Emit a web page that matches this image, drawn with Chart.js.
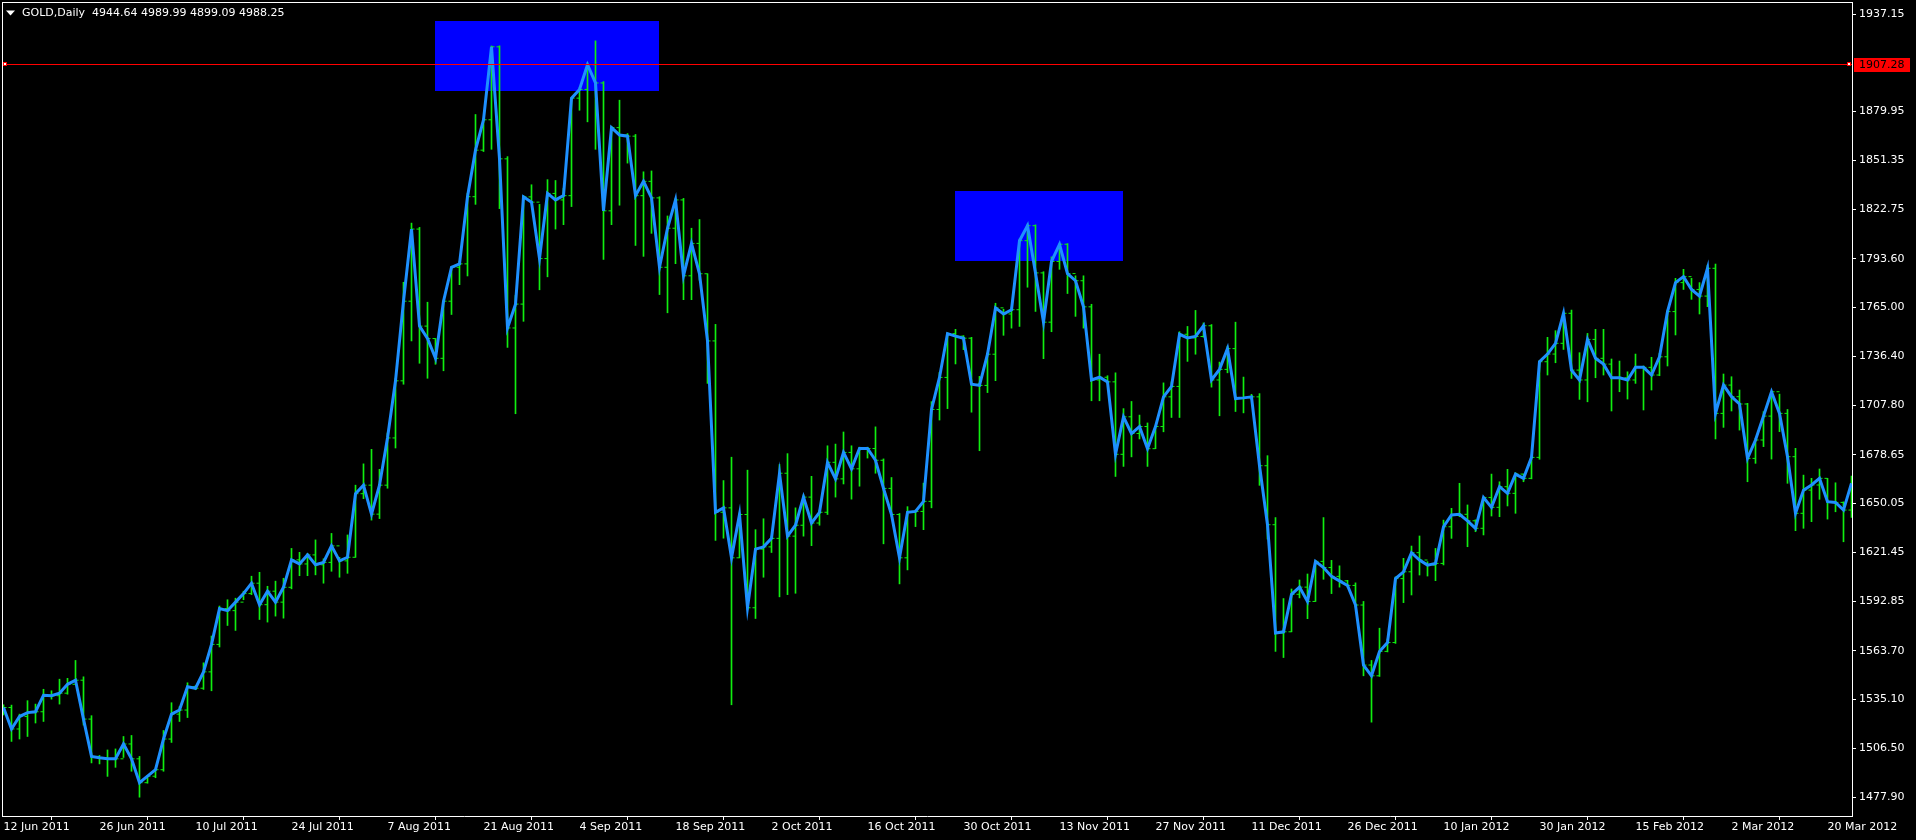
<!DOCTYPE html>
<html>
<head>
<meta charset="utf-8">
<title>GOLD,Daily</title>
<script src="https://cdn.jsdelivr.net/npm/chart.js@4.4.1/dist/chart.umd.min.js"></script>
<style>
  html, body { margin: 0; padding: 0; background: #000; overflow: hidden; }
  #chartBox { width: 1916px; height: 840px; }
</style>
</head>
<body>
<div id="chartBox"><canvas id="goldChart" width="1916" height="840"></canvas></div>
<script>
// GOLD daily bars, 12 Jun 2011 .. Mar 2012
const chartTitle = 'GOLD,Daily  4944.64 4989.99 4899.09 4988.25';

// one label every 12 bars, starting with bar 0
const dateLabels = ['12 Jun 2011', '26 Jun 2011', '10 Jul 2011', '24 Jul 2011', '7 Aug 2011',
  '21 Aug 2011', '4 Sep 2011', '18 Sep 2011', '2 Oct 2011', '16 Oct 2011', '30 Oct 2011',
  '13 Nov 2011', '27 Nov 2011', '11 Dec 2011', '26 Dec 2011', '10 Jan 2012', '30 Jan 2012',
  '15 Feb 2012', '2 Mar 2012', '20 Mar 2012'];
const barsPerLabel = 12;

const priceTicks = [1937.15, 1879.95, 1851.35, 1822.75, 1793.60, 1765.00, 1736.40, 1707.80,
  1678.65, 1650.05, 1621.45, 1592.85, 1563.70, 1535.10, 1506.50, 1477.90];

const opens = [
  1531.0, 1530.4, 1517.8, 1525.1, 1527.4, 1527.9, 1537.6, 1537.3, 1538.8, 1544.0, 1546.4, 1523.6,
  1501.7, 1500.9, 1500.3, 1500.3, 1509.0, 1500.3, 1486.3, 1490.1, 1493.9, 1511.9, 1526.5, 1528.9,
  1542.6, 1541.7, 1551.3, 1567.4, 1588.4, 1587.2, 1592.2, 1597.2, 1603.3, 1590.7, 1598.6, 1592.2,
  1600.9, 1617.0, 1614.6, 1619.9, 1614.1, 1615.5, 1625.2, 1616.4, 1618.5, 1655.8, 1660.8, 1643.8,
  1660.8, 1688.5, 1722.0, 1768.7, 1811.0, 1754.1, 1746.8, 1735.2, 1768.7, 1788.6, 1790.6, 1830.0,
  1857.3, 1875.1, 1917.9, 1852.2, 1753.0, 1767.0, 1829.9, 1826.8, 1793.7, 1831.9, 1828.1, 1830.6,
  1887.8, 1892.9, 1907.4, 1896.7, 1821.7, 1870.5, 1866.2, 1865.5, 1830.6, 1839.0, 1829.3, 1788.6,
  1811.5, 1828.1, 1783.6, 1802.6, 1784.8, 1745.4, 1644.9, 1647.5, 1618.2, 1643.6, 1588.9, 1623.3,
  1624.6, 1629.6, 1667.8, 1630.9, 1637.3, 1653.8, 1638.6, 1644.9, 1674.2, 1664.5, 1680.0, 1670.4,
  1682.3, 1682.3, 1675.4, 1658.9, 1643.6, 1618.2, 1644.9, 1645.4, 1651.3, 1705.2, 1724.0, 1749.7,
  1748.2, 1747.0, 1720.0, 1719.3, 1737.6, 1764.8, 1761.2, 1763.7, 1804.2, 1813.0, 1785.3, 1756.4,
  1792.0, 1802.1, 1784.9, 1780.7, 1765.4, 1722.5, 1724.1, 1721.4, 1678.9, 1700.9, 1691.1, 1695.2,
  1682.2, 1695.2, 1712.6, 1718.7, 1749.3, 1747.2, 1748.0, 1754.3, 1722.5, 1728.7, 1740.9, 1711.6,
  1712.0, 1712.6, 1672.2, 1637.6, 1574.1, 1574.8, 1596.8, 1601.0, 1592.6, 1616.1, 1612.5, 1607.3,
  1604.7, 1602.0, 1590.5, 1555.3, 1549.0, 1563.3, 1568.5, 1606.0, 1610.0, 1621.2, 1616.9, 1613.9,
  1614.9, 1636.4, 1643.3, 1643.7, 1639.9, 1635.5, 1653.6, 1647.8, 1659.9, 1656.0, 1667.3, 1664.8,
  1677.1, 1733.2, 1737.7, 1744.0, 1761.6, 1728.3, 1722.5, 1746.3, 1735.2, 1731.8, 1723.8, 1723.8,
  1722.5, 1729.9, 1729.9, 1725.4, 1736.1, 1762.6, 1779.6, 1783.1, 1775.6, 1771.7, 1788.0, 1702.9,
  1719.5, 1712.7, 1708.4, 1676.5, 1687.3, 1701.3, 1715.6, 1702.9, 1677.5, 1644.3, 1657.9, 1660.9,
  1664.8, 1651.1, 1650.7, 1646.2
];

const highs = [
  1532.0, 1531.8, 1526.5, 1534.4, 1532.4, 1541.1, 1540.2, 1547.0, 1547.5, 1558.0, 1548.4, 1525.6,
  1502.3, 1505.5, 1506.1, 1513.4, 1514.0, 1501.7, 1490.6, 1494.5, 1516.9, 1533.2, 1530.9, 1544.9,
  1543.2, 1556.6, 1572.3, 1589.9, 1593.6, 1594.5, 1598.6, 1607.4, 1609.7, 1601.5, 1604.5, 1606.2,
  1623.7, 1621.4, 1620.8, 1628.7, 1617.6, 1632.5, 1618.5, 1631.6, 1660.8, 1673.3, 1681.8, 1670.1,
  1691.4, 1723.5, 1779.8, 1814.5, 1812.0, 1768.1, 1746.8, 1769.3, 1789.2, 1792.1, 1832.0, 1878.2,
  1876.0, 1918.4, 1918.5, 1853.5, 1772.1, 1830.6, 1837.0, 1825.5, 1840.0, 1839.5, 1834.9, 1887.8,
  1894.0, 1908.5, 1921.4, 1897.5, 1871.3, 1886.6, 1867.0, 1866.5, 1844.6, 1845.1, 1830.0, 1818.7,
  1829.0, 1829.0, 1811.5, 1816.6, 1784.8, 1755.1, 1663.5, 1677.2, 1644.5, 1669.6, 1634.7, 1641.1,
  1630.9, 1672.9, 1679.3, 1647.5, 1655.1, 1666.0, 1646.2, 1683.9, 1684.9, 1692.0, 1683.9, 1683.1,
  1683.1, 1695.0, 1676.2, 1665.3, 1644.2, 1648.2, 1646.2, 1662.0, 1709.8, 1727.0, 1750.1, 1752.2,
  1748.5, 1747.5, 1724.6, 1738.5, 1767.5, 1764.0, 1765.0, 1805.2, 1814.0, 1813.5, 1786.0, 1794.7,
  1802.5, 1802.5, 1783.6, 1783.6, 1766.9, 1737.6, 1725.0, 1726.7, 1705.7, 1709.9, 1701.9, 1697.3,
  1695.7, 1720.8, 1721.4, 1750.8, 1753.9, 1763.3, 1756.0, 1755.0, 1733.0, 1742.4, 1756.4, 1724.2,
  1714.1, 1714.5, 1678.1, 1641.8, 1594.3, 1599.9, 1605.2, 1608.7, 1616.7, 1641.8, 1616.7, 1613.5,
  1605.0, 1603.5, 1592.6, 1558.0, 1576.9, 1570.6, 1607.0, 1617.9, 1625.1, 1631.0, 1615.9, 1623.7,
  1640.3, 1647.2, 1661.9, 1649.2, 1640.5, 1653.6, 1667.3, 1662.8, 1670.1, 1668.1, 1667.3, 1677.5,
  1734.0, 1747.5, 1751.4, 1761.9, 1763.5, 1738.5, 1749.8, 1752.2, 1752.2, 1734.8, 1733.6, 1727.3,
  1737.7, 1730.7, 1735.8, 1738.1, 1763.5, 1782.1, 1787.4, 1782.1, 1779.6, 1789.9, 1790.5, 1726.0,
  1724.4, 1716.6, 1708.8, 1688.2, 1703.9, 1715.6, 1714.2, 1705.2, 1682.4, 1666.7, 1664.8, 1670.3,
  1664.8, 1662.2, 1651.0, 1666.1
];

const lows = [
  1526.0, 1510.5, 1511.9, 1513.4, 1521.3, 1522.2, 1535.3, 1532.4, 1538.2, 1545.5, 1520.1, 1497.9,
  1497.3, 1490.0, 1495.3, 1501.1, 1493.0, 1477.8, 1486.0, 1489.2, 1493.0, 1509.9, 1522.2, 1524.5,
  1540.8, 1541.0, 1540.2, 1565.9, 1578.5, 1575.6, 1593.6, 1596.6, 1582.0, 1580.5, 1584.0, 1582.8,
  1600.0, 1607.7, 1607.7, 1608.2, 1603.3, 1610.3, 1606.8, 1609.1, 1618.5, 1652.9, 1640.3, 1641.2,
  1659.0, 1682.6, 1720.0, 1745.4, 1732.3, 1723.5, 1731.7, 1727.9, 1760.9, 1778.4, 1783.5, 1825.5,
  1856.5, 1857.8, 1823.0, 1741.6, 1702.7, 1756.9, 1826.0, 1775.4, 1783.0, 1811.0, 1813.6, 1824.2,
  1880.7, 1873.9, 1857.8, 1793.2, 1813.6, 1825.0, 1849.7, 1801.4, 1795.0, 1808.5, 1772.6, 1761.9,
  1790.7, 1769.6, 1769.6, 1781.0, 1720.5, 1628.4, 1629.7, 1532.0, 1618.2, 1587.7, 1582.6, 1606.8,
  1621.3, 1595.3, 1596.6, 1597.4, 1630.9, 1625.3, 1637.3, 1643.6, 1653.8, 1661.5, 1652.6, 1660.2,
  1676.7, 1667.8, 1626.4, 1642.4, 1602.9, 1611.1, 1636.5, 1634.7, 1647.5, 1699.0, 1705.7, 1731.9,
  1740.3, 1703.6, 1681.0, 1715.1, 1722.1, 1748.7, 1752.9, 1753.9, 1776.9, 1762.7, 1735.0, 1750.8,
  1787.4, 1773.2, 1759.8, 1752.9, 1710.3, 1710.3, 1720.4, 1665.9, 1671.8, 1677.4, 1687.9, 1671.8,
  1682.2, 1692.1, 1700.5, 1700.5, 1733.4, 1737.6, 1747.6, 1718.3, 1701.5, 1726.7, 1704.0, 1703.2,
  1711.0, 1660.7, 1629.2, 1563.3, 1559.7, 1574.8, 1594.7, 1582.5, 1592.6, 1605.6, 1597.2, 1601.0,
  1601.0, 1589.4, 1549.0, 1521.8, 1548.6, 1563.0, 1568.0, 1591.9, 1596.4, 1608.1, 1607.5, 1604.8,
  1614.0, 1629.6, 1642.3, 1624.7, 1633.5, 1631.6, 1642.7, 1642.3, 1648.6, 1644.3, 1662.8, 1664.5,
  1676.0, 1725.4, 1732.6, 1740.4, 1723.4, 1711.1, 1709.7, 1723.8, 1725.4, 1704.3, 1715.6, 1711.3,
  1720.5, 1704.9, 1716.6, 1725.0, 1730.7, 1748.9, 1775.6, 1769.8, 1761.2, 1765.5, 1687.9, 1694.7,
  1704.3, 1693.1, 1662.8, 1673.6, 1683.4, 1676.1, 1692.2, 1661.9, 1634.1, 1635.5, 1639.4, 1652.5,
  1640.9, 1645.2, 1627.6, 1641.9
];

const closes = [
  1530.4, 1517.8, 1525.1, 1527.4, 1527.9, 1537.6, 1537.3, 1538.8, 1544.0, 1546.4, 1523.6, 1501.7,
  1500.9, 1500.3, 1500.3, 1509.0, 1500.3, 1486.3, 1490.1, 1493.9, 1511.9, 1526.5, 1528.9, 1542.6,
  1541.7, 1551.3, 1567.4, 1588.4, 1587.2, 1592.2, 1597.2, 1603.3, 1590.7, 1598.6, 1592.2, 1600.9,
  1617.0, 1614.6, 1619.9, 1614.1, 1615.5, 1625.2, 1616.4, 1618.5, 1655.8, 1660.8, 1643.8, 1660.8,
  1688.5, 1722.0, 1768.7, 1811.0, 1754.1, 1746.8, 1735.2, 1768.7, 1788.6, 1790.6, 1830.0, 1857.3,
  1875.1, 1917.9, 1852.2, 1753.0, 1767.0, 1829.9, 1826.8, 1793.7, 1831.9, 1828.1, 1830.6, 1887.8,
  1892.9, 1907.4, 1896.7, 1821.7, 1870.5, 1866.2, 1865.5, 1830.6, 1839.0, 1829.3, 1788.6, 1811.5,
  1828.1, 1783.6, 1802.6, 1784.8, 1745.4, 1644.9, 1647.5, 1618.2, 1643.6, 1588.9, 1623.3, 1624.6,
  1629.6, 1667.8, 1630.9, 1637.3, 1653.8, 1638.6, 1644.9, 1674.2, 1664.5, 1680.0, 1670.4, 1682.3,
  1682.3, 1675.4, 1658.9, 1643.6, 1618.2, 1644.9, 1645.4, 1651.3, 1705.2, 1724.0, 1749.7, 1748.2,
  1747.0, 1720.0, 1719.3, 1737.6, 1764.8, 1761.2, 1763.7, 1804.2, 1813.0, 1785.3, 1756.4, 1792.0,
  1802.1, 1784.9, 1780.7, 1765.4, 1722.5, 1724.1, 1721.4, 1678.9, 1700.9, 1691.1, 1695.2, 1682.2,
  1695.2, 1712.6, 1718.7, 1749.3, 1747.2, 1748.0, 1754.3, 1722.5, 1728.7, 1740.9, 1711.6, 1712.0,
  1712.6, 1672.2, 1637.6, 1574.1, 1574.8, 1596.8, 1601.0, 1592.6, 1616.1, 1612.5, 1607.3, 1604.7,
  1602.0, 1590.5, 1555.3, 1549.0, 1563.3, 1568.5, 1606.0, 1610.0, 1621.2, 1616.9, 1613.9, 1614.9,
  1636.4, 1643.3, 1643.7, 1639.9, 1635.5, 1653.6, 1647.8, 1659.9, 1656.0, 1667.3, 1664.8, 1677.1,
  1733.2, 1737.7, 1744.0, 1761.6, 1728.3, 1722.5, 1746.3, 1735.2, 1731.8, 1723.8, 1723.8, 1722.5,
  1729.9, 1729.9, 1725.4, 1736.1, 1762.6, 1779.6, 1783.1, 1775.6, 1771.7, 1788.0, 1702.9, 1719.5,
  1712.7, 1708.4, 1676.5, 1687.3, 1701.3, 1715.6, 1702.9, 1677.5, 1644.3, 1657.9, 1660.9, 1664.8,
  1651.1, 1650.7, 1646.2, 1661.9
];

// horizontal line object and the two rectangles (bar index / price)
const hLinePrice = 1907.28;
const boxFromBar = [54, 119];
const boxToBar = [82, 140];
const boxTopPrice = [1933.0, 1833.3];
const boxBottomPrice = [1892.0, 1792.3];

const BAR_GREEN = '#10ee10';
const LINE_BLUE = '#1e90ff';
const FONT = '"DejaVu Sans", "Liberation Sans", sans-serif';

(function () {
  'use strict';

  const barIdx = closes.map((_, i) => i);
  const tickShift = 1.5 / 8; // open/close tick sits half a tick beside the bar

  const mt4Overlay = {
    id: 'mt4Overlay',
    beforeDatasetsDraw(chart) {
      const { ctx, chartArea: a, scales: { x, y } } = chart;
      ctx.save();
      ctx.beginPath();
      ctx.rect(a.left, a.top, a.right - a.left, a.bottom - a.top);
      ctx.clip();
      ctx.fillStyle = '#0000ff';
      for (let k = 0; k < boxFromBar.length; k++) {
        const x0 = Math.floor(x.getPixelForValue(boxFromBar[k]));
        const x1 = Math.floor(x.getPixelForValue(boxToBar[k]));
        const y0 = Math.round(y.getPixelForValue(boxTopPrice[k]));
        const y1 = Math.round(y.getPixelForValue(boxBottomPrice[k]));
        ctx.fillRect(x0, y0, x1 - x0, y1 - y0);
      }
      ctx.restore();
    },
    afterDatasetsDraw(chart) {
      const { ctx, chartArea: a, scales: { y } } = chart;
      const ly = Math.floor(y.getPixelForValue(hLinePrice));
      ctx.save();
      // red horizontal line with its two anchor squares
      ctx.fillStyle = '#ff0000';
      ctx.fillRect(a.left, ly, a.right - a.left, 1);
      [a.left + 1, a.right - 5].forEach(function (sx) {
        ctx.fillStyle = '#ff0000';
        ctx.fillRect(sx, ly - 2, 4, 4);
        ctx.fillStyle = '#ffffff';
        ctx.fillRect(sx + 1, ly - 1, 2, 2);
      });
      // left and top frame
      ctx.fillStyle = '#ffffff';
      ctx.fillRect(a.left, a.top, 1, a.bottom - a.top);
      ctx.fillRect(a.left, a.top, a.right - a.left, 1);
      ctx.restore();
    },
    afterDraw(chart) {
      const { ctx, chartArea: a, scales: { y } } = chart;
      ctx.save();
      // title
      ctx.fillStyle = '#ffffff';
      ctx.beginPath();
      ctx.moveTo(6, 10.5);
      ctx.lineTo(15, 10.5);
      ctx.lineTo(10.5, 15.5);
      ctx.closePath();
      ctx.fill();
      ctx.font = '11px ' + FONT;
      ctx.textBaseline = 'middle';
      ctx.textAlign = 'left';
      ctx.fillText(chartTitle, 22, 13);
      // price label of the horizontal line
      const ly = Math.floor(y.getPixelForValue(hLinePrice));
      ctx.fillStyle = '#ff0000';
      ctx.fillRect(a.right + 2, ly - 6, 56, 14);
      ctx.fillStyle = '#000000';
      ctx.fillText(hLinePrice.toFixed(2), a.right + 7, ly + 1);
      ctx.restore();
    }
  };

  new Chart(document.getElementById('goldChart'), {
    data: {
      datasets: [
        {
          type: 'line',
          label: 'Close',
          data: barIdx.map(i => ({ x: i, y: closes[i] })),
          borderColor: LINE_BLUE,
          borderWidth: 3,
          pointRadius: 0,
          tension: 0,
          fill: false,
          order: 0
        },
        {
          type: 'scatter',
          label: 'Open',
          data: barIdx.map(i => ({ x: i - tickShift, y: opens[i] })),
          pointStyle: 'line',
          pointRadius: 1.5,
          pointBorderColor: BAR_GREEN,
          pointBorderWidth: 1,
          order: 1
        },
        {
          type: 'scatter',
          label: 'CloseTick',
          data: barIdx.map(i => ({ x: i + tickShift, y: closes[i] })),
          pointStyle: 'line',
          pointRadius: 1.5,
          pointBorderColor: BAR_GREEN,
          pointBorderWidth: 1,
          order: 1
        },
        {
          type: 'bar',
          label: 'Range',
          data: barIdx.map(i => ({ x: i, y: [lows[i], highs[i]] })),
          backgroundColor: BAR_GREEN,
          borderWidth: 0,
          barThickness: 1,
          order: 2
        }
      ]
    },
    options: {
      responsive: false,
      animation: false,
      devicePixelRatio: 1,
      events: [],
      layout: { autoPadding: false, padding: { left: 2, top: 2, right: 0, bottom: 0 } },
      plugins: { legend: { display: false }, tooltip: { enabled: false } },
      scales: {
        x: {
          type: 'linear',
          min: -0.1875,
          max: 231.0625,
          offset: false,
          afterFit(scale) {
            scale.height = 24;
            scale.paddingLeft = 0;
            scale.paddingRight = 0;
          },
          afterBuildTicks(scale) {
            scale.ticks = dateLabels.map((_, k) => ({ value: k * barsPerLabel }));
          },
          ticks: {
            callback: (v, i) => dateLabels[i],
            color: '#ffffff',
            font: { family: FONT, size: 11 },
            align: 'start',
            autoSkip: false,
            maxRotation: 0,
            minRotation: 0,
            padding: 1
          },
          grid: { drawOnChartArea: false, drawTicks: true, tickLength: 4, color: '#ffffff' },
          border: { display: true, color: '#ffffff', width: 1 }
        },
        y: {
          type: 'linear',
          position: 'right',
          min: 1466.76,
          max: 1944.19,
          afterFit(scale) {
            scale.width = 64;
            scale.paddingTop = 0;
            scale.paddingBottom = 0;
          },
          afterBuildTicks(scale) {
            scale.ticks = priceTicks.map(v => ({ value: v }));
          },
          ticks: {
            callback: v => Number(v).toFixed(2),
            color: '#ffffff',
            font: { family: FONT, size: 11 },
            autoSkip: false,
            padding: 3
          },
          grid: { drawOnChartArea: false, drawTicks: true, tickLength: 4, color: '#ffffff' },
          border: { display: true, color: '#ffffff', width: 1 }
        }
      }
    },
    plugins: [mt4Overlay]
  });
})();
</script>
</body>
</html>
